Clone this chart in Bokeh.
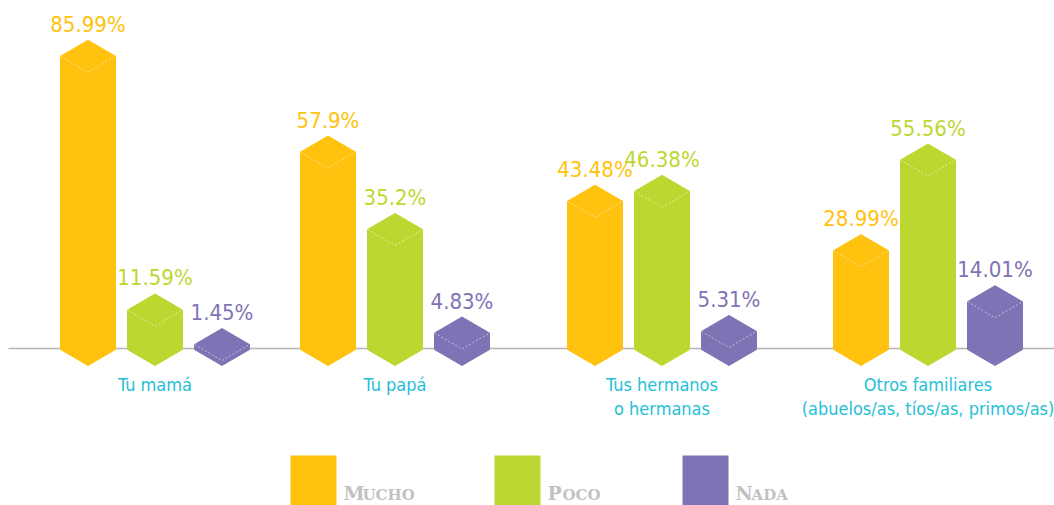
from bokeh.plotting import figure
from bokeh.models import Range1d
from bokeh.core.properties import value
from bokeh.embed import file_html
from bokeh.resources import INLINE

# ---- data ----
categories_line1 = ["Tu mamá", "Tu papá", "Tus hermanos", "Otros familiares"]
categories_line2 = ["", "", "o hermanas", "(abuelos/as, tíos/as, primos/as)"]
series_names = ["Mucho", "Poco", "Nada"]
mucho = [85.99, 57.9, 43.48, 28.99]
poco = [11.59, 35.2, 46.38, 55.56]
nada = [1.45, 4.83, 5.31, 14.01]
colors = ["#FFC20E", "#BDD731", "#7F72B5"]

# ---- layout (pixels) ----
PX = 3.41            # pixels per percentage point
BASE = 349           # pixel row of the zero line
group_left = [60, 300, 567, 833]
bar_w = 55
bar_step = 67
D = 16 / PX          # half-height of top diamond, data units

p = figure(width=1054, height=505, output_backend="svg", toolbar_location=None,
           x_range=Range1d(0, 1054), y_range=Range1d((BASE - 505) / PX, BASE / PX),
           min_border=0, outline_line_color=None)
p.axis.visible = False
p.grid.visible = False
p.background_fill_color = "white"

# baseline
p.line([8, 1054], [0.3, 0.3], line_color="#B5B5B5", line_width=1.5)

cond = value("DejaVu Sans Condensed")
series = [mucho, poco, nada]
for si, vals in enumerate(series):
    xs, ys, vx, vy, lab = [], [], [], [], []
    lx, ly = [], []
    for gi, v in enumerate(vals):
        c = group_left[gi] + si * bar_step + bar_w / 2
        w = bar_w / 2
        xs.append([c - w, c, c + w, c + w, c, c - w])
        ys.append([v, v + D, v, 0, -D, 0])
        lx.append([c - w, c, c + w])
        ly.append([v, v - D, v])
        vx.append(c)
        vy.append(v + D + 16 / PX)
        lab.append(f"{v}%")
    p.patches(xs, ys, fill_color=colors[si], line_color=colors[si], line_width=1)
    p.multi_line(lx, ly, line_color="white", line_alpha=0.55, line_width=1, line_dash="2 2")
    p.text(vx, vy, text=lab, text_color=colors[si], text_font=cond,
           text_font_size="22px", text_align="center", text_baseline="middle")

# category labels
centers = [g + bar_step + bar_w / 2 for g in group_left]
p.text(centers, [(BASE - 384) / PX] * 4, text=categories_line1, text_color="#26BFD8",
       text_font=cond, text_font_size="18px", text_align="center",
       text_baseline="middle")
p.text(centers, [(BASE - 408) / PX] * 4, text=categories_line2, text_color="#26BFD8",
       text_font=cond, text_font_size="18px", text_align="center",
       text_baseline="middle")

# legend
leg_x = [313, 517, 705]
leg_y = (BASE - 480) / PX
p.rect(leg_x, [leg_y] * 3, width=46, height=50, width_units="screen", height_units="screen",
       fill_color=colors, line_color=None)
first_w = [19, 15, 16]
tx1 = [x + 23 + 7 for x in leg_x]
tx2 = [t + fw for t, fw in zip(tx1, first_w)]
p.text(tx1, [(BASE - 492.5) / PX] * 3, text=[s[0].upper() for s in series_names],
       text_color="#C2C2C2", text_font=value("DejaVu Serif"), text_font_style="bold",
       text_font_size="19px", text_align="left", text_baseline="middle")
p.text(tx2, [(BASE - 494) / PX] * 3, text=[s[1:].upper() for s in series_names],
       text_color="#C2C2C2", text_font=value("DejaVu Serif"), text_font_style="bold",
       text_font_size="15px", text_align="left", text_baseline="middle")

open("out.html", "w").write(file_html(p, INLINE))
